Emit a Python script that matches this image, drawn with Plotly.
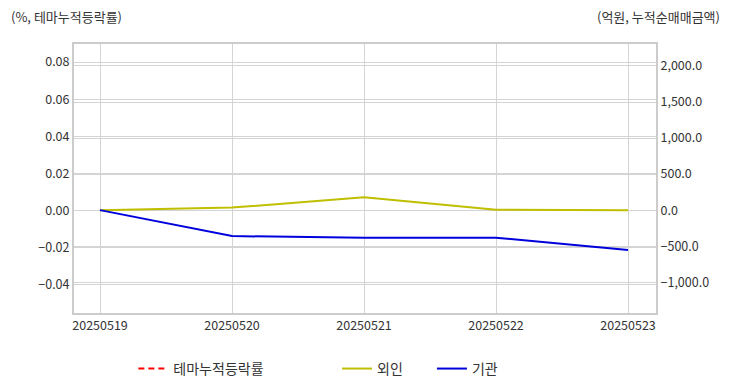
import plotly.graph_objects as go

dates = ["20250519", "20250520", "20250521", "20250522", "20250523"]
theme_pct = [None, None, None, None, None]
foreign = [0.0, 35.0, 180.0, 5.0, 0.0]
institution = [0.0, -360.0, -383.0, -383.0, -554.0]

left_ticks = [-0.04, -0.02, 0.0, 0.02, 0.04, 0.06, 0.08]
right_ticks = [-1000, -500, 0, 500, 1000, 1500, 2000]

FONT = "Noto Sans CJK KR"
GRID = "#d4d4d4"
fig = go.Figure()
fig.add_trace(go.Scatter(x=dates, y=theme_pct, name="테마누적등락률", mode="lines",
                         line=dict(color="red", dash="6px,4px", width=2), legend="legend"))
fig.add_trace(go.Scatter(x=dates, y=foreign, name="외인", mode="lines",
                         line=dict(color="#bfbf00", width=2), yaxis="y2", legend="legend2"))
fig.add_trace(go.Scatter(x=dates, y=institution, name="기관", mode="lines",
                         line=dict(color="#0000dd", width=2), yaxis="y2", legend="legend3"))

leg = dict(orientation="h", yref="container", xref="container", yanchor="middle", y=0.04,
           xanchor="left", font=dict(family=FONT, size=14, color="#333"),
           bgcolor="rgba(0,0,0,0)")
fig.update_layout(
    width=716, height=376,
    margin=dict(l=66, r=68, t=36, b=71),
    paper_bgcolor="white", plot_bgcolor="white",
    font=dict(family=FONT, size=12.5, color="#333"),
    showlegend=True,
    legend=dict(leg, x=(66 + 0.102 * 582) / 716),
    legend2=dict(leg, x=(66 + 0.452 * 582) / 716),
    legend3=dict(leg, x=(66 + 0.615 * 582) / 716),
    xaxis=dict(type="category", range=[-0.197, 4.212], showgrid=True, gridcolor=GRID,
               showline=True, linecolor="#cccccc", linewidth=2, mirror=True,
               ticks="", tickfont=dict(size=12.5, color="#333")),
    yaxis=dict(range=[-0.0551, 0.0897], tickvals=left_ticks, tickformat=".2f",
               showgrid=True, gridcolor=GRID, zeroline=False,
               showline=True, linecolor="#cccccc", linewidth=2,
               ticks="", tickfont=dict(size=12.5, color="#333")),
    yaxis2=dict(range=[-1427, 2305], tickvals=right_ticks, tickformat=",.1f",
                overlaying="y", side="right", showgrid=True, gridcolor=GRID, zeroline=False,
                showline=True, linecolor="#cccccc", linewidth=2,
                ticks="", tickfont=dict(size=12.5, color="#333")),
    annotations=[
        dict(text="(%, 테마누적등락률)", xref="paper", yref="paper", x=-0.111, y=1.104,
             xanchor="left", yanchor="middle", showarrow=False,
             font=dict(family=FONT, size=13, color="#333")),
        dict(text="(억원, 누적순매매금액)", xref="paper", yref="paper", x=1.113, y=1.104,
             xanchor="right", yanchor="middle", showarrow=False,
             font=dict(family=FONT, size=13, color="#333")),
    ],
)
fig.write_html("out.html")
